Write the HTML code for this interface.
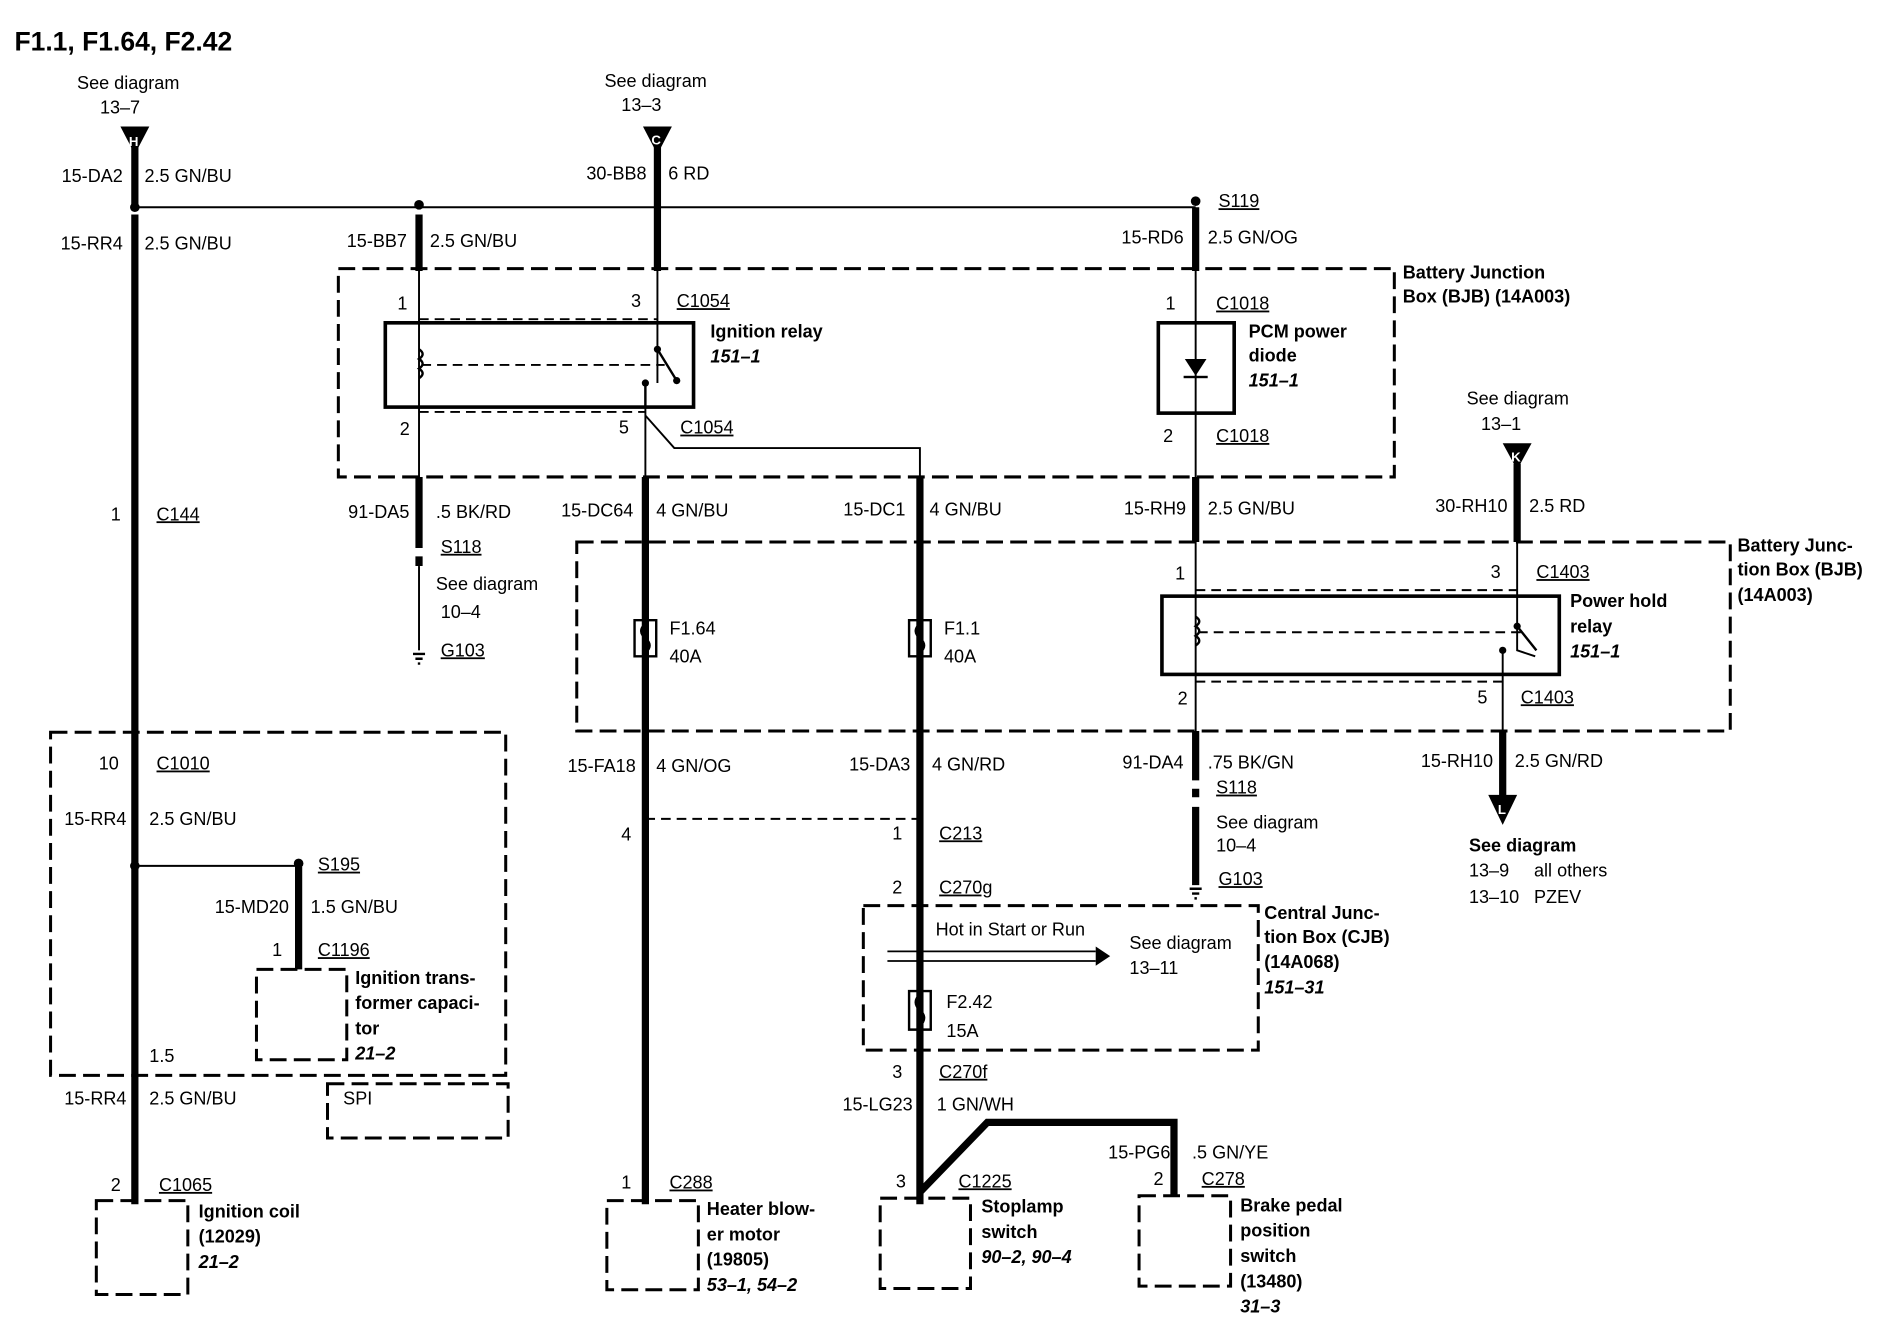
<!DOCTYPE html>
<html><head><meta charset="utf-8"><style>
html,body{margin:0;padding:0;background:#fff;}
svg{display:block}
text{font-family:"Liberation Sans",sans-serif;font-size:15px;fill:#000}
.b{font-weight:bold}
.i{font-weight:bold;font-style:italic}
.r{text-anchor:end}
.u{text-decoration:underline}
</style></head><body>
<svg width="1888" height="1344" viewBox="0 0 1568 1116" xmlns="http://www.w3.org/2000/svg">
<g stroke="#000" fill="none">
<!-- thick wires -->
<g stroke-width="6">
<path d="M112 118V172M112 178V1000"/>
<path d="M348 178V225"/>
<path d="M546 118V225"/>
<path d="M993 172V225"/>
<path d="M348 396V455M348 462V470"/>
<path d="M536 396V1000"/>
<path d="M764 396V1000"/>
<path d="M993 396V450"/>
<path d="M1260 385V450"/>
<path d="M993 607V648M993 655V662M993 670V735"/>
<path d="M1248 607V665"/>
<path d="M248 720V805"/>
<path d="M764 990L820 932H975V993"/>
</g>
<!-- thin wires -->
<g stroke-width="1.6">
<path d="M112 172H993"/>
<path d="M348 225V396M546 225V318"/>
<path d="M536 318V396M536 345L560 372H764V396"/>
<path d="M993 225V396"/>
<path d="M1260 450V540L1275 545"/>
<path d="M993 450V607M1248 540V607"/>
<path d="M112 719H248"/>
<path d="M348 470V540"/>
</g>
<g stroke-width="1.6" stroke-dasharray="8,5">
<path d="M348 265H546M348 342H536M536 680H764M993 490H1260M993 566H1248M350 303H552M995 525H1268"/>
</g>
<!-- dashed boxes -->
<g stroke-width="2.5" stroke-dasharray="14,6">
<rect x="281" y="223" width="877" height="173"/>
<rect x="479" y="450" width="958" height="157"/>
<rect x="42" y="608" width="378" height="285"/>
<rect x="272" y="900" width="150" height="45"/>
<rect x="717" y="752" width="328" height="120"/>
<rect x="213" y="805" width="75" height="75"/>
<rect x="80" y="997" width="76" height="78"/>
<rect x="504" y="997" width="76" height="74"/>
<rect x="731" y="995" width="75" height="75"/>
<rect x="946" y="993" width="76" height="75"/>
</g>
<!-- relays -->
<g stroke-width="3">
<rect x="320" y="268" width="256" height="70"/>
<rect x="962" y="268" width="63" height="75"/>
<rect x="965" y="495" width="330" height="65"/>
</g>
<g stroke-width="2">
<path d="M348 290q6 4 0 8q6 4 0 8q6 4 0 8"/>
<path d="M993 512q6 4 0 8q6 4 0 8q6 4 0 8"/>
<path d="M546 290L562 316M1260 520L1276 540"/>
<path d="M536 318V338"/>
<path d="M764 515h-9v30h18v-30z"/>
<path d="M536 515h-9v30h18v-30z"/>
<path d="M764 823h-9v32h18v-32z"/>
<path d="M764 518q-7 6 0 12q7 6 0 12M536 518q-7 6 0 12q7 6 0 12M764 826q-7 6 0 13q7 6 0 13"/>
</g>
<!-- bus arrow -->
<path d="M737 790H910M737 798H910" stroke-width="1.5"/>
</g>
<g fill="#000">
<circle cx="112" cy="172" r="4"/><circle cx="348" cy="170" r="4"/><circle cx="993" cy="167" r="4"/>
<circle cx="112" cy="719" r="4"/><circle cx="248" cy="717" r="4"/>
<circle cx="546" cy="290" r="3"/><circle cx="562" cy="316" r="3"/><circle cx="536" cy="318" r="3"/>
<circle cx="1260" cy="520" r="3"/><circle cx="1248" cy="540" r="3"/>
<path d="M100 105H124L112 128Z"/><path d="M534 105H558L546 128Z"/><path d="M1248 368H1272L1260 390Z"/>
<path d="M1236 660H1260L1248 685Z"/>
<path d="M984 298H1002L993 312Z"/><rect x="983" y="312" width="20" height="2"/>
<path d="M910 786L922 794L910 802Z"/>
<path d="M343 542h10v2h-10zM345 546h6v2h-6zM347 550h2v2h-2z"/>
<path d="M988 737h10v2h-10zM990 741h6v2h-6zM992 745h2v2h-2z"/>
</g>
<g fill="#fff" font-weight="bold" font-size="11">
<text x="107" y="121" style="fill:#fff;font-size:11px;font-weight:bold">H</text>
<text x="541" y="120" style="fill:#fff;font-size:11px;font-weight:bold">C</text>
<text x="1255" y="383" style="fill:#fff;font-size:11px;font-weight:bold">K</text>
<text x="1244" y="676" style="fill:#fff;font-size:11px;font-weight:bold">L</text>
</g>
<text x="12" y="42" class="b" style="font-size:22px">F1.1, F1.64, F2.42</text>
<text x="64" y="74">See diagram</text><text x="83" y="94">13–7</text>
<text x="502" y="72">See diagram</text><text x="516" y="92">13–3</text>
<text x="102" y="151" class="r">15-DA2</text><text x="120" y="151">2.5 GN/BU</text>
<text x="537" y="149" class="r">30-BB8</text><text x="555" y="149">6 RD</text>
<text x="102" y="207" class="r">15-RR4</text><text x="120" y="207">2.5 GN/BU</text>
<text x="338" y="205" class="r">15-BB7</text><text x="357" y="205">2.5 GN/BU</text>
<text x="1012" y="172" class="u">S119</text>
<text x="983" y="202" class="r">15-RD6</text><text x="1003" y="202">2.5 GN/OG</text>
<text x="1165" y="231" class="b">Battery Junction</text><text x="1165" y="251" class="b">Box (BJB) (14A003)</text>
<text x="330" y="257">1</text><text x="524" y="255">3</text><text x="562" y="255" class="u">C1054</text>
<text x="590" y="280" class="b">Ignition relay</text><text x="590" y="301" class="i">151–1</text>
<text x="968" y="257">1</text><text x="1010" y="257" class="u">C1018</text>
<text x="1037" y="280" class="b">PCM power</text><text x="1037" y="300" class="b">diode</text><text x="1037" y="321" class="i">151–1</text>
<text x="332" y="361">2</text><text x="514" y="360">5</text><text x="565" y="360" class="u">C1054</text>
<text x="966" y="367">2</text><text x="1010" y="367" class="u">C1018</text>
<text x="1218" y="336">See diagram</text><text x="1230" y="357">13–1</text>
<text x="92" y="432">1</text><text x="130" y="432" class="u">C144</text>
<text x="340" y="430" class="r">91-DA5</text><text x="362" y="430">.5 BK/RD</text>
<text x="526" y="429" class="r">15-DC64</text><text x="545" y="429">4 GN/BU</text>
<text x="752" y="428" class="r">15-DC1</text><text x="772" y="428">4 GN/BU</text>
<text x="985" y="427" class="r">15-RH9</text><text x="1003" y="427">2.5 GN/BU</text>
<text x="1252" y="425" class="r">30-RH10</text><text x="1270" y="425">2.5 RD</text>
<text x="1443" y="458" class="b">Battery Junc-</text><text x="1443" y="478" class="b">tion Box (BJB)</text><text x="1443" y="499" class="b">(14A003)</text>
<text x="366" y="459" class="u">S118</text><text x="362" y="490">See diagram</text><text x="366" y="513">10–4</text><text x="366" y="545" class="u">G103</text>
<text x="976" y="481">1</text><text x="1238" y="480">3</text><text x="1276" y="480" class="u">C1403</text>
<text x="1304" y="504" class="b">Power hold</text><text x="1304" y="525" class="b">relay</text><text x="1304" y="546" class="i">151–1</text>
<text x="556" y="527">F1.64</text><text x="556" y="550">40A</text>
<text x="784" y="527">F1.1</text><text x="784" y="550">40A</text>
<text x="978" y="585">2</text><text x="1227" y="584">5</text><text x="1263" y="584" class="u">C1403</text>
<text x="82" y="639">10</text><text x="130" y="639" class="u">C1010</text>
<text x="528" y="641" class="r">15-FA18</text><text x="545" y="641">4 GN/OG</text>
<text x="756" y="640" class="r">15-DA3</text><text x="774" y="640">4 GN/RD</text>
<text x="983" y="638" class="r">91-DA4</text><text x="1003" y="638">.75 BK/GN</text>
<text x="1240" y="637" class="r">15-RH10</text><text x="1258" y="637">2.5 GN/RD</text>
<text x="1010" y="659" class="u">S118</text><text x="1010" y="688">See diagram</text><text x="1010" y="707">10–4</text><text x="1012" y="735" class="u">G103</text>
<text x="105" y="685" class="r">15-RR4</text><text x="124" y="685">2.5 GN/BU</text>
<text x="516" y="698">4</text><text x="741" y="697">1</text><text x="780" y="697" class="u">C213</text>
<text x="1220" y="707" class="b">See diagram</text><text x="1220" y="728">13–9</text><text x="1274" y="728">all others</text><text x="1220" y="750">13–10</text><text x="1274" y="750">PZEV</text>
<text x="264" y="723" class="u">S195</text>
<text x="741" y="742">2</text><text x="780" y="742" class="u">C270g</text>
<text x="240" y="758" class="r">15-MD20</text><text x="258" y="758">1.5 GN/BU</text>
<text x="1050" y="763" class="b">Central Junc-</text><text x="1050" y="783" class="b">tion Box (CJB)</text><text x="1050" y="804" class="b">(14A068)</text><text x="1050" y="825" class="i">151–31</text>
<text x="777" y="777">Hot in Start or Run</text>
<text x="938" y="788">See diagram</text><text x="938" y="809">13–11</text>
<text x="226" y="794">1</text><text x="264" y="794" class="u">C1196</text>
<text x="295" y="817" class="b">Ignition trans-</text><text x="295" y="838" class="b">former capaci-</text><text x="295" y="859" class="b">tor</text><text x="295" y="880" class="i">21–2</text>
<text x="786" y="837">F2.42</text><text x="786" y="861">15A</text>
<text x="124" y="882">1.5</text>
<text x="741" y="895">3</text><text x="780" y="895" class="u">C270f</text>
<text x="105" y="917" class="r">15-RR4</text><text x="124" y="917">2.5 GN/BU</text><text x="285" y="917">SPI</text>
<text x="758" y="922" class="r">15-LG23</text><text x="778" y="922">1 GN/WH</text>
<text x="972" y="962" class="r">15-PG6</text><text x="990" y="962">.5 GN/YE</text>
<text x="92" y="989">2</text><text x="132" y="989" class="u">C1065</text>
<text x="516" y="987">1</text><text x="556" y="987" class="u">C288</text>
<text x="744" y="986">3</text><text x="796" y="986" class="u">C1225</text>
<text x="958" y="984">2</text><text x="998" y="984" class="u">C278</text>
<text x="165" y="1011" class="b">Ignition coil</text><text x="165" y="1032" class="b">(12029)</text><text x="165" y="1053" class="i">21–2</text>
<text x="587" y="1009" class="b">Heater blow-</text><text x="587" y="1030" class="b">er motor</text><text x="587" y="1051" class="b">(19805)</text><text x="587" y="1072" class="i">53–1, 54–2</text>
<text x="815" y="1007" class="b">Stoplamp</text><text x="815" y="1028" class="b">switch</text><text x="815" y="1049" class="i">90–2, 90–4</text>
<text x="1030" y="1006" class="b">Brake pedal</text><text x="1030" y="1027" class="b">position</text><text x="1030" y="1048" class="b">switch</text><text x="1030" y="1069" class="b">(13480)</text><text x="1030" y="1090" class="i">31–3</text>
</svg>
</body></html>
